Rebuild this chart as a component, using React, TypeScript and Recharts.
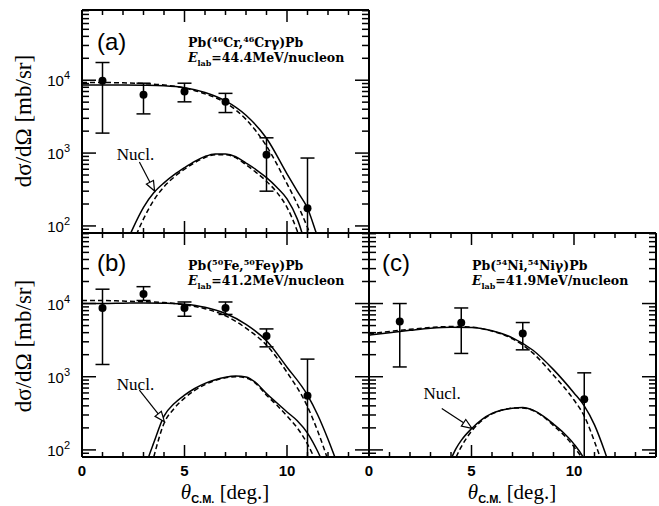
import React from "react";
import {
  ComposedChart,
  ErrorBar,
  Line,
  ReferenceDot,
  ReferenceLine,
  Scatter,
  XAxis,
  YAxis,
} from "recharts";

// axis ticks
const xTicks = [0, 1, 2, 3, 4, 5, 6, 7, 8, 9, 10, 11, 12, 13, 14];
const xMajor = [0, 5, 10];
const yTicks = [
  90, 100, 200, 300, 400, 500, 600, 700, 800, 900, 1000, 2000, 3000, 4000, 5000,
  6000, 7000, 8000, 9000, 10000, 20000, 30000, 40000, 50000, 60000, 70000, 80000, 90000,
];
const yMajor = [100, 1000, 10000];
const xDomain = [0, 14];
const yDomain = [80, 92000];

// (a) Pb(46Cr,46Cr gamma)Pb
const aPtsX = [1, 3, 5, 7, 9, 11];
const aPtsY = [9800, 6300, 7000, 5050, 950, 175];
const aPtsHi = [17500, 9100, 9100, 6600, 1620, 855];
const aPtsLo = [1880, 3450, 5050, 3600, 300, 80];
const aTotX = [0, 1, 2, 3, 4, 5, 6, 7, 8, 9, 10, 10.5, 11, 11.5, 12];
const aTotSolid = [8600, 8600, 8600, 8550, 8400, 7900, 6800, 5200, 3300, 1600, 520, 300, 175, 70, 30];
const aTotDash = [9300, 9300, 9200, 9000, 8600, 7800, 6500, 4900, 2900, 1250, 380, 200, 95, 40, 15];
const aNucSolidX = [2, 2.5, 3, 3.5, 4, 4.5, 5, 5.5, 6, 6.5, 7, 7.5, 8, 8.5, 9, 9.5, 10, 10.5, 11];
const aNucSolid = [45, 95, 180, 285, 390, 505, 630, 770, 900, 975, 970, 890, 730, 590, 460, 340, 235, 125, 45];
const aNucDashX = [2.5, 3, 3.5, 4, 4.5, 5, 5.5, 6, 6.5, 7, 7.5, 8, 8.5, 9, 9.5, 10, 10.5, 11];
const aNucDash = [60, 125, 225, 345, 470, 600, 740, 870, 950, 950, 865, 690, 540, 410, 290, 180, 85, 30];

// (b) Pb(50Fe,50Fe gamma)Pb
const bPtsX = [1, 3, 5, 7, 9, 11];
const bPtsY = [8700, 13500, 8700, 8700, 3600, 550];
const bPtsHi = [15700, 17000, 10500, 10500, 4500, 1740];
const bPtsLo = [1470, 11000, 6700, 7100, 2560, 80];
const bTotX = [0, 1, 2, 3, 4, 5, 6, 7, 8, 9, 10, 11, 11.5, 12, 12.5, 13];
const bTotSolid = [10000, 10000, 10100, 10200, 10100, 9800, 8900, 7300, 5200, 3100, 1350, 560, 300, 140, 60, 25];
const bTotDash = [11000, 11000, 10800, 10600, 10300, 9600, 8500, 6800, 4600, 2700, 1150, 390, 180, 72, 25, 8];
const bNucSolidX = [3, 3.25, 3.5, 4, 4.5, 5, 5.5, 6, 6.5, 7, 7.5, 8, 8.5, 9, 9.5, 10, 10.5, 11, 11.5, 12];
const bNucSolid = [45, 80, 125, 290, 430, 560, 690, 810, 910, 985, 1020, 990, 820, 590, 440, 330, 250, 170, 95, 45];
const bNucDashX = [3.5, 4, 4.5, 5, 5.5, 6, 6.5, 7, 7.5, 8, 8.5, 9, 9.5, 10, 10.5, 11, 11.5, 12];
const bNucDash = [80, 230, 370, 510, 650, 780, 890, 970, 1000, 960, 800, 560, 410, 290, 200, 120, 60, 25];

// (c) Pb(54Ni,54Ni gamma)Pb
const cPtsX = [1.5, 4.5, 7.5, 10.5];
const cPtsY = [5700, 5450, 3900, 494];
const cPtsHi = [10000, 8700, 5500, 1130];
const cPtsLo = [1360, 2080, 2330, 80];
const cTotX = [0, 1, 2, 3, 4, 5, 6, 7, 8, 9, 10, 10.5, 11, 11.5, 12];
const cTotSolid = [3700, 4000, 4300, 4600, 4750, 4700, 4250, 3400, 2300, 1250, 600, 400, 220, 95, 35];
const cTotDash = [3850, 4150, 4450, 4700, 4850, 4750, 4200, 3300, 2100, 1050, 480, 290, 130, 50, 15];
const cNucSolidX = [4, 4.25, 4.5, 5, 5.5, 6, 6.5, 7, 7.5, 8, 8.5, 9, 9.5, 10, 10.5, 11];
const cNucSolid = [75, 105, 135, 195, 260, 315, 350, 372, 380, 350, 290, 225, 170, 120, 75, 35];
const cNucDashX = [4.25, 4.5, 5, 5.5, 6, 6.5, 7, 7.5, 8, 8.5, 9, 9.5, 10, 10.5, 11];
const cNucDash = [80, 110, 180, 250, 310, 350, 372, 375, 345, 285, 215, 160, 110, 68, 30];

// "Nucl." label and arrow (data coords)
const aNucl = { tx: 2.61, ty: 968, x1: 2.8, y1: 753, x2: 3.54, y2: 301 };
const bNucl = { tx: 2.61, ty: 792, x1: 2.8, y1: 656, x2: 4.02, y2: 243 };
const cNucl = { tx: 3.57, ty: 597, x1: 3.55, y1: 369, x2: 5.02, y2: 197 };

const pts = (xs: number[], ys: number[], lo: number[], hi: number[]) =>
  xs.map((x, i) => ({ x, y: ys[i], err: [ys[i] - lo[i], hi[i] - ys[i]] }));
const curve = (xs: number[], ys: number[]) => xs.map((x, i) => ({ x, y: ys[i] }));

const frame = { stroke: "#000", strokeWidth: 2 };
const sans = "'Liberation Sans', Arial, sans-serif";
const serif = "'Liberation Serif', 'Times New Roman', serif";
const wideSerif = "'DejaVu Serif', serif";

const xTick = (side: "top" | "bottom", labels: boolean) => (p: any) => {
  const v = p.payload.value;
  const major = xMajor.includes(v);
  const dir = side === "bottom" ? -1 : 1;
  return (
    <g>
      <line x1={p.x} x2={p.x} y1={p.y} y2={p.y + dir * (major ? 12 : 5)} stroke="#000" strokeWidth={1.5} />
      {labels && major && (
        <text x={p.x} y={p.y + 19} textAnchor="middle" fontFamily={sans} fontSize={15} fontWeight="bold">
          {v}
        </text>
      )}
    </g>
  );
};

const yTick = (side: "left" | "right", labels: boolean) => (p: any) => {
  const v = p.payload.value;
  const major = yMajor.includes(v);
  const dir = side === "left" ? 1 : -1;
  return (
    <g>
      <line x1={p.x} x2={p.x + dir * (major ? 14 : 7)} y1={p.y} y2={p.y} stroke="#000" strokeWidth={1.5} />
      {labels && major && (
        <text x={p.x - 12} y={p.y + 6} textAnchor="end" fontFamily={sans} fontSize={15}>
          10
          <tspan dy={-7} fontSize={11}>
            {Math.round(Math.log10(v))}
          </tspan>
        </text>
      )}
    </g>
  );
};

const Arrow = (p: any) => {
  const { x1, y1, x2, y2 } = p;
  const dx = x2 - x1;
  const dy = y2 - y1;
  const len = Math.hypot(dx, dy) || 1;
  const ux = dx / len;
  const uy = dy / len;
  const bx = x2 - ux * 10;
  const by = y2 - uy * 10;
  const head = `${x2},${y2} ${bx - uy * 4},${by + ux * 4} ${bx + uy * 4},${by - ux * 4}`;
  return (
    <g>
      <line x1={x1} y1={y1} x2={bx} y2={by} stroke="#000" strokeWidth={1.2} />
      <polygon points={head} fill="#fff" stroke="#000" strokeWidth={1.2} />
    </g>
  );
};

const NuclText = (p: any) => (
  <text x={p.cx} y={p.cy + 6} textAnchor="middle" fontFamily={serif} fontSize={17}>
    Nucl.
  </text>
);

const Dot = (p: any) => <circle cx={p.cx} cy={p.cy} r={4} fill="#000" />;

interface PanelProps {
  left: number;
  top: number;
  width: number;
  height: number;
  yAxisW: number;
  xAxisH: number;
  right: number;
  xLabels: boolean;
  yLabels: boolean;
  points: { x: number; y: number; err: number[] }[];
  totSolid: { x: number; y: number }[];
  totDash: { x: number; y: number }[];
  nucSolid: { x: number; y: number }[];
  nucDash: { x: number; y: number }[];
  nucl: { tx: number; ty: number; x1: number; y1: number; x2: number; y2: number };
}

function Panel(props: PanelProps) {
  const lineProps = {
    dataKey: "y",
    type: "monotone" as const,
    dot: false,
    stroke: "#000",
    strokeWidth: 1.5,
    isAnimationActive: false,
  };
  return (
    <div style={{ position: "absolute", left: props.left, top: props.top }}>
      <ComposedChart
        width={props.width}
        height={props.height}
        margin={{ top: 10, right: props.right, left: 0, bottom: 0 }}
      >
        <XAxis
          type="number"
          dataKey="x"
          domain={xDomain}
          allowDataOverflow
          ticks={xTicks}
          interval={0}
          tickSize={0}
          tickMargin={0}
          tickLine={false}
          tick={xTick("bottom", props.xLabels)}
          height={props.xAxisH}
          axisLine={frame}
        />
        <XAxis
          xAxisId="t"
          orientation="top"
          mirror
          type="number"
          dataKey="x"
          domain={xDomain}
          allowDataOverflow
          ticks={xTicks}
          interval={0}
          tickSize={0}
          tickMargin={0}
          tickLine={false}
          tick={xTick("top", false)}
          axisLine={frame}
        />
        <YAxis
          type="number"
          dataKey="y"
          scale="log"
          domain={yDomain}
          allowDataOverflow
          ticks={yTicks}
          interval={0}
          tickSize={0}
          tickMargin={0}
          tickLine={false}
          tick={yTick("left", props.yLabels)}
          width={props.yAxisW}
          axisLine={frame}
        />
        <YAxis
          yAxisId="r"
          orientation="right"
          mirror
          type="number"
          dataKey="y"
          scale="log"
          domain={yDomain}
          allowDataOverflow
          ticks={yTicks}
          interval={0}
          tickSize={0}
          tickMargin={0}
          tickLine={false}
          tick={yTick("right", false)}
          axisLine={frame}
        />
        <Line data={props.totSolid} {...lineProps} />
        <Line data={props.totDash} {...lineProps} strokeDasharray="5 3" />
        <Line data={props.nucSolid} {...lineProps} />
        <Line data={props.nucDash} {...lineProps} strokeDasharray="5 3" />
        <Scatter data={props.points} dataKey="y" shape={Dot} isAnimationActive={false}>
          <ErrorBar dataKey="err" direction="y" width={7} stroke="#000" strokeWidth={1.5} />
        </Scatter>
        <ReferenceLine
          segment={[
            { x: props.nucl.x1, y: props.nucl.y1 },
            { x: props.nucl.x2, y: props.nucl.y2 },
          ]}
          shape={Arrow}
        />
        <ReferenceDot x={props.nucl.tx} y={props.nucl.ty} r={0} shape={NuclText} />
      </ComposedChart>
    </div>
  );
}

function Reaction({ x, y, a, el }: { x: number; y: number; a: string; el: string }) {
  return (
    <text x={x} y={y} fontFamily={wideSerif} fontWeight="bold" fontSize={12.5}>
      Pb(
      <tspan dy={-5} fontSize={8}>{a}</tspan>
      <tspan dy={5}>{el},</tspan>
      <tspan dy={-5} fontSize={8}>{a}</tspan>
      <tspan dy={5}>{el}γ)Pb</tspan>
    </text>
  );
}

function Energy({ x, y, e }: { x: number; y: number; e: string }) {
  return (
    <text x={x} y={y} fontFamily={wideSerif} fontWeight="bold" fontSize={12.5}>
      <tspan fontStyle="italic">E</tspan>
      <tspan dy={4} fontSize={8}>lab</tspan>
      <tspan dy={-4}>={e}MeV/nucleon</tspan>
    </text>
  );
}

function YTitle({ x, y }: { x: number; y: number }) {
  return (
    <text x={x} y={y} transform={`rotate(-90 ${x} ${y})`} textAnchor="middle" fontFamily={serif} fontSize={23}>
      dσ/dΩ [mb/sr]
    </text>
  );
}

function XTitle({ x, y }: { x: number; y: number }) {
  return (
    <text x={x} y={y} textAnchor="middle" fontFamily={serif} fontSize={21}>
      <tspan fontStyle="italic">θ</tspan>
      <tspan dy={4} fontSize={11} fontWeight="bold" fontFamily={sans}>C.M.</tspan>
      <tspan dy={-4}> [deg.]</tspan>
    </text>
  );
}

export default function App() {
  return (
    <div style={{ position: "absolute", left: 0, top: 0, width: 659, height: 506, background: "#fff" }}>
      <Panel
        left={0}
        top={0}
        width={380}
        height={240}
        yAxisW={82}
        xAxisH={7}
        right={11}
        xLabels={false}
        yLabels
        points={pts(aPtsX, aPtsY, aPtsLo, aPtsHi)}
        totSolid={curve(aTotX, aTotSolid)}
        totDash={curve(aTotX, aTotDash)}
        nucSolid={curve(aNucSolidX, aNucSolid)}
        nucDash={curve(aNucDashX, aNucDash)}
        nucl={aNucl}
      />
      <Panel
        left={0}
        top={223}
        width={380}
        height={283}
        yAxisW={82}
        xAxisH={49}
        right={11}
        xLabels
        yLabels
        points={pts(bPtsX, bPtsY, bPtsLo, bPtsHi)}
        totSolid={curve(bTotX, bTotSolid)}
        totDash={curve(bTotX, bTotDash)}
        nucSolid={curve(bNucSolidX, bNucSolid)}
        nucDash={curve(bNucDashX, bNucDash)}
        nucl={bNucl}
      />
      <Panel
        left={359}
        top={223}
        width={300}
        height={283}
        yAxisW={10}
        xAxisH={49}
        right={3}
        xLabels
        yLabels={false}
        points={pts(cPtsX, cPtsY, cPtsLo, cPtsHi)}
        totSolid={curve(cTotX, cTotSolid)}
        totDash={curve(cTotX, cTotDash)}
        nucSolid={curve(cNucSolidX, cNucSolid)}
        nucDash={curve(cNucDashX, cNucDash)}
        nucl={cNucl}
      />
      <svg width={659} height={506} style={{ position: "absolute", left: 0, top: 0, pointerEvents: "none" }}>
        <text x={97} y={50} fontFamily={sans} fontSize={24}>(a)</text>
        <text x={97} y={271} fontFamily={sans} fontSize={24}>(b)</text>
        <text x={382} y={271} fontFamily={sans} fontSize={24}>(c)</text>
        <Reaction x={188} y={47} a="46" el="Cr" />
        <Energy x={188} y={62} e="44.4" />
        <Reaction x={188} y={270} a="50" el="Fe" />
        <Energy x={188} y={285} e="41.2" />
        <Reaction x={472} y={270} a="54" el="Ni" />
        <Energy x={472} y={285} e="41.9" />
        <YTitle x={31} y={121} />
        <YTitle x={31} y={346} />
        <XTitle x={225} y={499} />
        <XTitle x={512} y={499} />
      </svg>
    </div>
  );
}
